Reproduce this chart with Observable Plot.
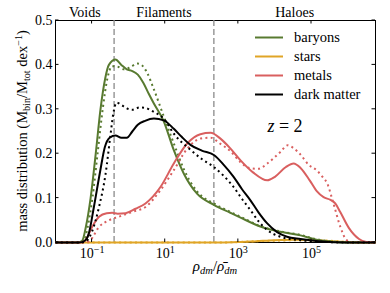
<!DOCTYPE html>
<html><head><meta charset="utf-8">
<script src="https://cdn.jsdelivr.net/npm/d3@7"></script>
<script src="https://cdn.jsdelivr.net/npm/@observablehq/plot@0.6"></script>
<style>body{margin:0;background:#fff}</style>
</head><body><div id="chart"></div>
<script>
// ---- data ----
const xDomain = [0.01, 10 ** 6.75];
const xTicks = [0.1, 10, 1000, 100000];
const yTicks = [0, 0.1, 0.2, 0.3, 0.4, 0.5];
const regionNames = ["Voids", "Filaments", "Haloes"];
const thresholds = [0.4, 214];
const seriesNames = ["baryons", "stars", "metals", "dark matter"];
const seriesColors = ["#587a30", "#e0a526", "#d95f5f", "#000000"];
const redshiftLabel = "2";

// [log10(rho/rho_mean), mass distribution]
const baryonsSolid = [[-2,0],[-1.4,0],[-1.27,0.004],[-1.17,0.035],[-1.04,0.1],[-0.9,0.2],[-0.77,0.3],[-0.64,0.37],[-0.54,0.4],[-0.36,0.412],[-0.2,0.4],[-0.05,0.39],[0.1,0.386],[0.25,0.378],[0.4,0.36],[0.55,0.335],[0.69,0.313],[0.96,0.273],[1.235,0.208],[1.51,0.155],[1.87,0.11],[2.33,0.085],[2.78,0.067],[3.06,0.056],[3.6,0.036],[4.15,0.024],[4.7,0.016],[5.1,0.007],[5.5,0.002],[6.0,0],[6.75,0]];
const baryonsDotted = [[-2,0],[-1.35,0],[-1.22,0.004],[-1.12,0.035],[-0.99,0.1],[-0.85,0.2],[-0.71,0.3],[-0.58,0.37],[-0.45,0.397],[-0.3,0.396],[-0.13,0.39],[0.05,0.395],[0.235,0.403],[0.35,0.4],[0.5,0.383],[0.69,0.345],[0.96,0.284],[1.235,0.223],[1.51,0.165],[1.87,0.115],[2.33,0.088],[2.78,0.069],[3.06,0.058],[3.6,0.037],[4.15,0.025],[4.7,0.017],[5.1,0.008],[5.5,0.003],[6.0,0],[6.75,0]];
const starsSolid = [[-2,0],[2.5,0],[3.0,0.001],[3.5,0.003],[4.0,0.005],[4.5,0.006],[5.0,0.005],[5.5,0.003],[6.0,0.001],[6.75,0]];
const starsDotted = [[-2,0],[2.5,0],[3.0,0.001],[3.5,0.003],[4.0,0.004],[4.5,0.005],[5.0,0.005],[5.5,0.004],[6.0,0.001],[6.75,0]];
const metalsSolid = [[-2,0],[-1.3,0],[-1.18,0.005],[-1.0,0.035],[-0.81,0.058],[-0.6,0.066],[-0.45,0.067],[-0.3,0.065],[-0.085,0.066],[0.19,0.076],[0.46,0.088],[0.87,0.125],[1.235,0.178],[1.6,0.223],[1.96,0.244],[2.24,0.247],[2.51,0.234],[2.78,0.212],[3.06,0.185],[3.4,0.158],[3.79,0.14],[4.0,0.148],[4.3,0.17],[4.51,0.178],[4.7,0.168],[4.95,0.14],[5.15,0.115],[5.33,0.102],[5.52,0.096],[5.65,0.088],[5.79,0.068],[6.02,0.033],[6.3,0.008],[6.5,0.001],[6.75,0]];
const metalsDotted = [[-2,0],[-1.2,0],[-1.05,0.005],[-0.81,0.035],[-0.54,0.05],[-0.27,0.058],[0.1,0.069],[0.46,0.08],[0.87,0.118],[1.235,0.163],[1.6,0.211],[1.96,0.234],[2.24,0.236],[2.51,0.222],[2.78,0.206],[3.06,0.181],[3.3,0.168],[3.55,0.166],[3.79,0.178],[4.15,0.204],[4.35,0.219],[4.5,0.213],[4.7,0.198],[4.92,0.175],[5.15,0.162],[5.3,0.148],[5.43,0.133],[5.6,0.088],[5.79,0.035],[5.95,0.006],[6.1,0],[6.75,0]];
const darkSolid = [[-2,0],[-1.35,0],[-1.2,0.004],[-1.09,0.02],[-0.95,0.08],[-0.78,0.16],[-0.65,0.215],[-0.52,0.236],[-0.36,0.241],[-0.2,0.236],[-0.05,0.236],[0.1,0.25],[0.25,0.265],[0.45,0.274],[0.69,0.279],[0.96,0.275],[1.235,0.256],[1.45,0.238],[1.69,0.22],[2.0,0.207],[2.33,0.197],[2.6,0.175],[2.87,0.148],[3.1,0.12],[3.33,0.095],[3.55,0.068],[3.79,0.043],[4.05,0.024],[4.33,0.013],[4.7,0.008],[5.2,0.003],[6,0],[6.75,0]];
const darkDotted = [[-2,0],[-1.3,0],[-1.15,0.004],[-1.0,0.025],[-0.81,0.08],[-0.63,0.155],[-0.5,0.24],[-0.42,0.29],[-0.33,0.315],[-0.2,0.31],[-0.05,0.302],[0.1,0.299],[0.3,0.304],[0.45,0.303],[0.69,0.294],[0.96,0.279],[1.235,0.245],[1.69,0.209],[2.0,0.188],[2.33,0.17],[2.6,0.15],[2.87,0.125],[3.1,0.098],[3.33,0.073],[3.55,0.048],[3.79,0.028],[4.15,0.013],[4.7,0.005],[5.2,0.002],[6,0],[6.75,0]];

// ---- build ----
const W = 390, H = 293, ML = 55, MR = 15, MT = 20, MB = 51;
const FONT = "'Liberation Serif', 'DejaVu Serif', serif";
const toRows = arr => arr.map(([l, v]) => ({x: 10 ** l, y: v}));
const layers = [
  [starsSolid, 1, false], [starsDotted, 1, true],
  [baryonsSolid, 0, false], [baryonsDotted, 0, true],
  [metalsSolid, 2, false], [metalsDotted, 2, true],
  [darkSolid, 3, false], [darkDotted, 3, true]
];
const edges = [xDomain[0], ...thresholds, xDomain[1]];
const regionX = regionNames.map((_, i) => Math.sqrt(edges[i] * edges[i + 1]));

const lineMarks = layers.map(([arr, ci, dotted]) =>
  Plot.line(toRows(arr), {x: "x", y: "y", stroke: seriesColors[ci], strokeWidth: 2,
    curve: "monotone-x", strokeLinecap: "butt",
    strokeDasharray: dotted ? "2,3.3" : null})
);

const plot = Plot.plot({
  width: W, height: H,
  marginLeft: ML, marginRight: MR, marginTop: MT, marginBottom: MB,
  style: {fontFamily: FONT, fontSize: "14px", background: "white", color: "black"},
  x: {type: "log", domain: xDomain},
  y: {domain: [0, 0.5]},
  marks: [
    Plot.frame({stroke: "black", strokeWidth: 1}),
    Plot.ruleX(thresholds, {stroke: "#8a8a8a", strokeWidth: 1.3, strokeDasharray: "6,3"}),
    ...lineMarks,
    Plot.axisX(xTicks, {anchor: "bottom", tickSize: 0, tickPadding: 6, label: null,
      tickFormat: d => "10^" + Math.round(Math.log10(d)), fontSize: 14}),
    Plot.axisY(yTicks, {anchor: "left", tickSize: 0, tickPadding: 3, label: null,
      tickFormat: d3.format(".1f"), fontSize: 14}),
    Plot.text(regionNames, {x: (d, i) => regionX[i], frameAnchor: "top", dy: -4,
      lineAnchor: "bottom", text: d => d, fontSize: 14})
  ]
});
document.getElementById("chart").appendChild(plot);

const svg = d3.select(plot);
const sx = plot.scale("x"), sy = plot.scale("y");
const x0 = ML, x1 = W - MR, y0 = H - MB, y1 = MT;
const tk = 3.5;
const tg = svg.append("g").attr("stroke", "black").attr("stroke-width", 1);
xTicks.forEach(t => {
  const px = sx.apply(t);
  tg.append("line").attr("x1", px).attr("x2", px).attr("y1", y0).attr("y2", y0 - tk);
  tg.append("line").attr("x1", px).attr("x2", px).attr("y1", y1).attr("y2", y1 + tk);
});
yTicks.forEach(t => {
  const py = sy.apply(t);
  tg.append("line").attr("x1", x0).attr("x2", x0 + tk).attr("y1", py).attr("y2", py);
  tg.append("line").attr("x1", x1).attr("x2", x1 - tk).attr("y1", py).attr("y2", py);
});

// superscripts on x tick labels
svg.selectAll('g[aria-label="x-axis tick label"] text').each(function() {
  const s = this.textContent;
  const exp = s.split("^")[1].replace("-", "\u2212");
  const el = d3.select(this);
  el.text("10");
  el.append("tspan").attr("dy", "-0.5em").attr("font-size", "0.72em").text(exp);
});

// legend
const lg = svg.append("g").attr("font-size", 14.5).attr("font-family", FONT).attr("text-anchor", "start");
seriesNames.forEach((n, i) => {
  const y = 37.5 + i * 19;
  lg.append("line").attr("x1", 255).attr("x2", 283).attr("y1", y).attr("y2", y)
    .attr("stroke", seriesColors[i]).attr("stroke-width", 2);
  lg.append("text").attr("x", 294).attr("y", y).attr("dy", "0.3em").attr("fill", "black").text(n);
});

// redshift label
const zt = svg.append("text").attr("x", 285).attr("y", 131.5).attr("text-anchor", "middle")
  .attr("font-size", 18).attr("font-family", FONT).attr("fill", "black");
zt.append("tspan").attr("font-style", "italic").text("z");
zt.append("tspan").text(" = " + redshiftLabel);

// x label
const xl = svg.append("text").attr("x", (x0 + x1) / 2).attr("y", 271).attr("text-anchor", "middle")
  .attr("font-size", 15).attr("font-family", FONT).attr("fill", "black");
xl.append("tspan").attr("font-style", "italic").text("\u03C1");
xl.append("tspan").attr("font-style", "italic").attr("font-size", "0.7em").attr("dy", "0.3em").text("dm");
xl.append("tspan").attr("dy", "-0.21em").text("/");
xl.append("tspan").attr("font-style", "italic").text("\u03C1\u0304");
xl.append("tspan").attr("font-style", "italic").attr("font-size", "0.7em").attr("dy", "0.3em").text("dm");

// y label
const yl = svg.append("text").attr("transform", `translate(26.5,${(y0 + y1) / 2}) rotate(-90)`)
  .attr("text-anchor", "middle").attr("font-size", 14.5).attr("font-family", FONT).attr("fill", "black");
yl.append("tspan").text("mass distribution (M");
yl.append("tspan").attr("font-size", "0.7em").attr("dy", "0.3em").text("bin");
yl.append("tspan").attr("dy", "-0.21em").text("/M");
yl.append("tspan").attr("font-size", "0.7em").attr("dy", "0.3em").text("tot");
yl.append("tspan").attr("dy", "-0.21em").text(" dex");
yl.append("tspan").attr("font-size", "0.7em").attr("dy", "-0.45em").text("\u22121");
yl.append("tspan").attr("dy", "0.315em").text(")");
</script>
</body></html>
